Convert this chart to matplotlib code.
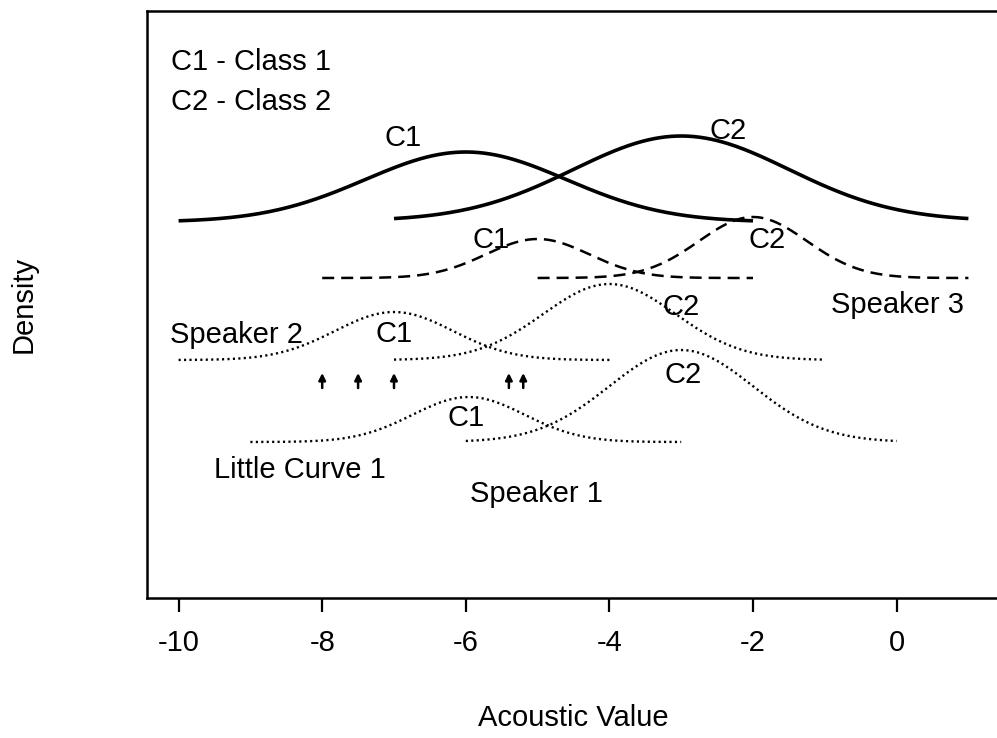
import numpy as np
import matplotlib.pyplot as plt

plt.rcParams['font.family'] = ['Liberation Sans', 'DejaVu Sans']

# gaussian curves: class, mean, sd, peak height, baseline, x start, x end
# heights / baselines are in arbitrary "density" units (stacked by speaker)
top_mean = [-6.0, -3.0]
top_sd = [1.4, 1.5]
top_peak = [70, 85]
top_base = [376, 377]
top_from = [-10, -7]
top_to = [-2, 1]

spk3_mean = [-5.0, -2.0]
spk3_sd = [0.72, 0.75]
spk3_peak = [39, 61]
spk3_base = [320, 320]
spk3_from = [-8, -5]
spk3_to = [-2, 1]

spk2_mean = [-7.0, -4.0]
spk2_sd = [0.82, 0.92]
spk2_peak = [48, 76]
spk2_base = [238, 238]
spk2_from = [-10, -7]
spk2_to = [-4, -1]

spk1_mean = [-5.96, -3.0]
spk1_sd = [0.78, 1.0]
spk1_peak = [45, 92]
spk1_base = [156, 156]
spk1_from = [-9, -6]
spk1_to = [-3, 0]

# observations marked with arrows
arrow_x = [-8.0, -7.5, -7.0, -5.4, -5.2]
arrow_y0, arrow_y1 = 210, 225

x_ticks = [-10, -8, -6, -4, -2, 0]

fig = plt.figure(figsize=(9.97, 7.38), dpi=100)
ax = fig.add_axes([147 / 997, 140 / 738, 853 / 997, 587 / 738])


def draw_group(means, sds, peaks, bases, starts, ends, **style):
    for m, s, p, b, a, e in zip(means, sds, peaks, bases, starts, ends):
        x = np.linspace(a, e, 300)
        y = b + p * np.exp(-0.5 * ((x - m) / s) ** 2)
        ax.plot(x, y, color='black', solid_capstyle='butt', **style)


draw_group(top_mean, top_sd, top_peak, top_base, top_from, top_to, lw=2.6)
draw_group(spk3_mean, spk3_sd, spk3_peak, spk3_base, spk3_from, spk3_to,
           lw=1.8, dashes=(4.8, 2.8))
draw_group(spk2_mean, spk2_sd, spk2_peak, spk2_base, spk2_from, spk2_to,
           lw=1.7, dashes=(0.9, 1.4))
draw_group(spk1_mean, spk1_sd, spk1_peak, spk1_base, spk1_from, spk1_to,
           lw=1.7, dashes=(0.9, 1.4))

for xa in arrow_x:
    ax.annotate('', xy=(xa, arrow_y1), xytext=(xa, arrow_y0),
                arrowprops=dict(arrowstyle='-|>', color='black', lw=1.8,
                                mutation_scale=10, shrinkA=0, shrinkB=0))

fs = 21
ax.text(-10.1, 536, 'C1 - Class 1', fontsize=fs, ha='left', va='center')
ax.text(-10.1, 496, 'C2 - Class 2', fontsize=fs, ha='left', va='center')
ax.text(-6.87, 460, 'C1', fontsize=fs, ha='center', va='center')
ax.text(-2.35, 467, 'C2', fontsize=fs, ha='center', va='center')
ax.text(-5.65, 358, 'C1', fontsize=fs, ha='center', va='center')
ax.text(-1.80, 358, 'C2', fontsize=fs, ha='center', va='center')
ax.text(0.01, 293, 'Speaker 3', fontsize=fs, ha='center', va='center')
ax.text(-9.19, 263, 'Speaker 2', fontsize=fs, ha='center', va='center')
ax.text(-7.0, 264, 'C1', fontsize=fs, ha='center', va='center')
ax.text(-3.0, 291, 'C2', fontsize=fs, ha='center', va='center')
ax.text(-6.0, 180, 'C1', fontsize=fs, ha='center', va='center')
ax.text(-2.98, 223, 'C2', fontsize=fs, ha='center', va='center')
ax.text(-8.31, 128, 'Little Curve 1', fontsize=fs, ha='center', va='center')
ax.text(-5.01, 104, 'Speaker 1', fontsize=fs, ha='center', va='center')

ax.set_xlim(-10.44, 1.44)
ax.set_ylim(0, 587)
ax.set_xticks(x_ticks)
ax.set_xticklabels([str(t) for t in x_ticks])
ax.set_yticks([])
ax.tick_params(axis='x', length=10, width=1.6, pad=12, labelsize=fs)
for side in ['left', 'top', 'bottom', 'right']:
    ax.spines[side].set_linewidth(1.8)

ax.set_xlabel('Acoustic Value', fontsize=fs)
ax.xaxis.set_label_coords(0.5, -120 / 587)
ax.xaxis.label.set_va('center')
ax.set_ylabel('Density', fontsize=fs)
ax.yaxis.set_label_coords(-123 / 853, 0.5)
ax.yaxis.label.set_va('center')

fig.savefig('out.png', dpi=100)
